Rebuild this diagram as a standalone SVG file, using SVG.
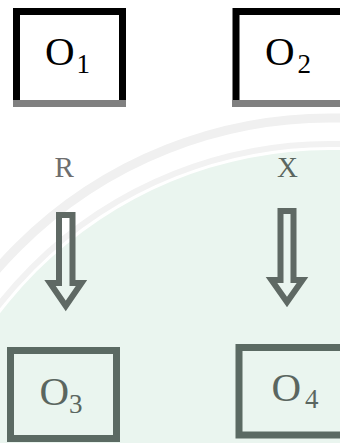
<svg xmlns="http://www.w3.org/2000/svg" width="340" height="443" viewBox="0 0 340 443">
  <style>
    .lbl { font-family: "Liberation Serif", "Times New Roman", Times, serif; }
    .box-top { fill: #ffffff; stroke: #000000; stroke-width: 7; }
    .box-base { fill: #808080; }
    .box-low { fill: none; stroke: #5b6a63; stroke-width: 7; }
    .arrow { fill: none; stroke: #5f6964; stroke-width: 6; stroke-linejoin: miter; stroke-miterlimit: 10; }
  </style>

  <!-- page background with faint seal tint -->
  <rect x="0" y="0" width="340" height="443" fill="#ffffff"/>
  <g id="seal">
    <circle cx="330" cy="565" r="415" fill="#eaf5ef"/>
    <circle cx="330" cy="560" r="442" fill="none" stroke="#f0f0f0" stroke-width="9"/>
    <circle cx="330" cy="565" r="421" fill="none" stroke="#f2f2f2" stroke-width="6"/>
  </g>

  <g id="node-o1">
    <rect class="box-top" x="16.5" y="11.5" width="106" height="92"/>
    <rect class="box-base" x="13" y="100" width="113" height="7"/>
    <text class="lbl" x="45" y="65" font-size="41" fill="#000000">O<tspan font-size="27" dx="2" dy="7.5">1</tspan></text>
  </g>

  <g id="node-o2">
    <rect class="box-top" x="236" y="11.5" width="120" height="92"/>
    <rect class="box-base" x="232" y="100" width="110" height="7"/>
    <text class="lbl" x="265" y="65" font-size="41" fill="#000000">O<tspan font-size="27" dx="3" dy="7.5">2</tspan></text>
  </g>

  <g id="node-o3">
    <rect class="box-low" x="10.5" y="350.5" width="106" height="88"/>
    <text class="lbl" x="39.5" y="404.5" font-size="41" fill="#5a6660">O<tspan font-size="27" dx="0" dy="8.5">3</tspan></text>
  </g>

  <g id="node-o4">
    <rect class="box-low" x="239" y="347.5" width="120" height="87.5"/>
    <text class="lbl" x="271.5" y="401" font-size="41" fill="#5a6660">O<tspan font-size="27" dx="4" dy="7">4</tspan></text>
  </g>

  <g id="connectors">
    <text class="lbl" x="54.5" y="176.5" font-size="29" fill="#6e6e6e">R</text>
    <text class="lbl" x="277" y="176.5" font-size="29" fill="#5a6660">X</text>
    <path class="arrow" d="M59,215 H72.5 V283 H81.5 L65.75,306 L50,283 H59 Z"/>
    <path class="arrow" d="M280.5,211 H293.5 V280 H302.5 L287,302 L271.5,280 H280.5 Z"/>
  </g>
</svg>
